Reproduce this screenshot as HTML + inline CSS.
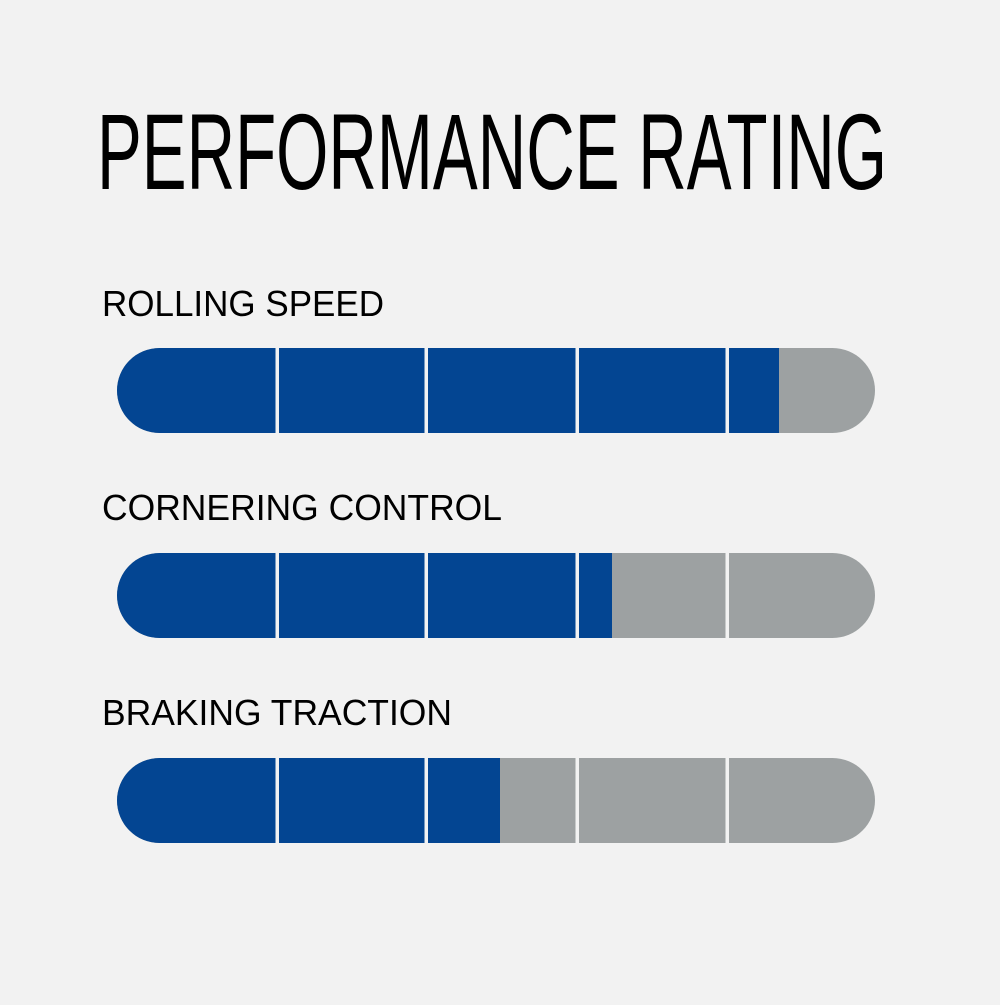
<!DOCTYPE html>
<html><head><style>html,body{margin:0;padding:0;background:#f2f2f2}</style></head><body>
<svg width="1000" height="1000" xmlns="http://www.w3.org/2000/svg">
<rect width="1000" height="1000" fill="#f2f2f2"/>
<text x="97" y="189" font-family="Liberation Sans Narrow, Liberation Sans, sans-serif" font-size="108" textLength="790" lengthAdjust="spacingAndGlyphs" fill="#000">PERFORMANCE RATING</text>
<g font-family="Liberation Sans, sans-serif" font-size="36" fill="#000">
<text x="102" y="316" textLength="282" lengthAdjust="spacingAndGlyphs">ROLLING SPEED</text>
<text x="102" y="520" textLength="400" lengthAdjust="spacingAndGlyphs">CORNERING CONTROL</text>
<text x="102" y="725" textLength="350" lengthAdjust="spacingAndGlyphs">BRAKING TRACTION</text>
</g>
<defs>
<clipPath id="c1"><rect x="117" y="348" width="758" height="85" rx="42.5"/></clipPath>
<clipPath id="c2"><rect x="117" y="553" width="758" height="85" rx="42.5"/></clipPath>
<clipPath id="c3"><rect x="117" y="758" width="758" height="85" rx="42.5"/></clipPath>
</defs>
<g clip-path="url(#c1)">
<rect x="100" y="348" width="800" height="85" fill="#9da1a2"/>
<rect x="100" y="348" width="679" height="85" fill="#034592"/>
</g>
<g clip-path="url(#c2)">
<rect x="100" y="553" width="800" height="85" fill="#9da1a2"/>
<rect x="100" y="553" width="512" height="85" fill="#034592"/>
</g>
<g clip-path="url(#c3)">
<rect x="100" y="758" width="800" height="85" fill="#9da1a2"/>
<rect x="100" y="758" width="400" height="85" fill="#034592"/>
</g>
<g fill="#f2f2f2">
<rect x="275.5" y="348" width="3.5" height="85"/><rect x="424.5" y="348" width="3.5" height="85"/><rect x="575.5" y="348" width="3.5" height="85"/><rect x="725.5" y="348" width="3.5" height="85"/>
<rect x="275.5" y="553" width="3.5" height="85"/><rect x="424.5" y="553" width="3.5" height="85"/><rect x="575.5" y="553" width="3.5" height="85"/><rect x="725.5" y="553" width="3.5" height="85"/>
<rect x="275.5" y="758" width="3.5" height="85"/><rect x="424.5" y="758" width="3.5" height="85"/><rect x="575.5" y="758" width="3.5" height="85"/><rect x="725.5" y="758" width="3.5" height="85"/>
</g>
</svg>
</body></html>
